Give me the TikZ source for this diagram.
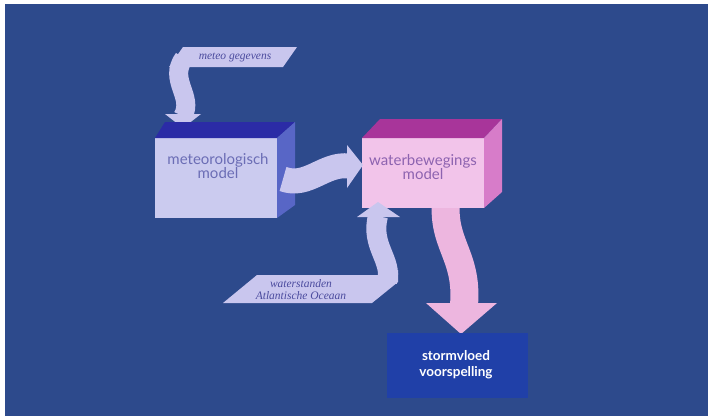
\documentclass[tikz,border=0pt]{standalone}
\usepackage{fontspec}
\setmainfont{Lato}
\newfontfamily\labelfont{Liberation Serif}
\definecolor{bg}{HTML}{2D4A8C}
\definecolor{lav}{HTML}{C9C6EE}
\definecolor{mfront}{HTML}{CBCBEF}
\definecolor{mtop}{HTML}{2B2BA6}
\definecolor{mside}{HTML}{5866C6}
\definecolor{wfront}{HTML}{F2C4EA}
\definecolor{wtop}{HTML}{A8359A}
\definecolor{wside}{HTML}{D77CC9}
\definecolor{pinkarrow}{HTML}{EDB6DF}
\definecolor{stormbox}{HTML}{2040A8}
\definecolor{mtext}{HTML}{6B6DB5}
\definecolor{wtext}{HTML}{8D63B0}
\definecolor{ltext}{HTML}{4B4B9E}
\tikzset{
  boxtext/.style={align=center, inner sep=0pt, font=\fontsize{15}{14.5}\selectfont},
  labeltext/.style={align=center, inner sep=0pt, text=ltext, font=\labelfont\itshape\fontsize{11.5}{12}\selectfont},
  shaft/.style={line cap=butt}
}
\begin{document}
\begin{tikzpicture}[x=1pt,y=-1pt]
\useasboundingbox (0,0) rectangle (708,416);
\fill[white] (0,0) rectangle (708,416);
\fill[bg] (5,4) rectangle (708,416);

% meteo gegevens arrow
\coordinate (mgA) at (184,58);
\coordinate (mgB) at (183,116);
\draw[shaft, line width=19pt, lav] (mgA) .. controls (168,80) and (194,96) .. (mgB);
\fill[lav] (183,47) -- (297,47) -- (283,67) -- (169,67) -- cycle;
\fill[lav] (165,114) -- (201,114) -- (183,128) -- cycle;
\node[labeltext] (meteo) at (235,57) {meteo gegevens};

% meteorologisch box
\fill[mfront] (155,138) rectangle (277,218);
\fill[mtop] (155,138) -- (165,122) -- (295,122) -- (277,138) -- cycle;
\fill[mside] (277,138) -- (295,122) -- (295,205) -- (277,218) -- cycle;
\node[boxtext, text=mtext] (mtxt) at (218,166) {meteorologisch\\model};

% pink arrow shaft (under water box)
\coordinate (pA) at (446,200);
\coordinate (pB) at (464,305);
\draw[shaft, line width=28pt, pinkarrow] (pA) .. controls (442,245) and (468,255) .. (pB);
\fill[pinkarrow] (426,303) -- (497,303) -- (461,334) -- cycle;

% waterbewegings box
\fill[wfront] (362,138) rectangle (484,208);
\fill[wtop] (362,138) -- (380,119) -- (502,119) -- (484,138) -- cycle;
\fill[wside] (484,138) -- (502,119) -- (502,192) -- (484,208) -- cycle;
\node[boxtext, text=wtext] (wtxt) at (423,167) {waterbewegings\\model};

% arrow between boxes
\coordinate (bA) at (283,179);
\coordinate (bB) at (349,166);
\draw[shaft, line width=25pt, lav] (bA) .. controls (308,188) and (324,163) .. (bB);
\fill[lav] (347,145) -- (347,188) -- (363,165) -- cycle;

% waterstanden arrow
\coordinate (wA) at (387,282);
\coordinate (wB) at (378,216);
\draw[shaft, line width=20pt, lav] (wA) .. controls (393,260) and (370,246) .. (wB);
\fill[lav] (223,303) -- (257,275) -- (390,275) -- (398,270) -- (398,282) -- (372,303) -- cycle;
\fill[lav] (357,217) -- (400,217) -- (378,202) -- cycle;
\node[labeltext] (wst) at (301,290) {waterstanden\\Atlantische Oceaan};

% stormvloed box
\fill[stormbox] (387,333) rectangle (528,398);
\node[align=center, inner sep=0pt, text=white, font=\bfseries\fontsize{13.5}{16}\selectfont] (storm) at (456,365) {stormvloed\\voorspelling};
\end{tikzpicture}
\end{document}
